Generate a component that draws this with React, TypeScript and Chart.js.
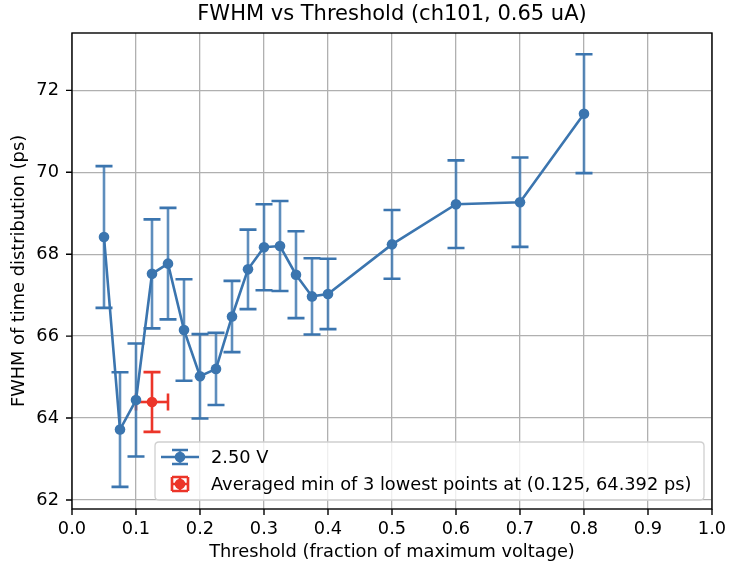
import React, { useEffect, useRef } from "react";
import { Chart, registerables } from "chart.js";

Chart.register(...registerables);

const thresholds = [0.05, 0.075, 0.1, 0.125, 0.15, 0.175, 0.2, 0.225, 0.25, 0.275, 0.3, 0.325, 0.35, 0.375, 0.4, 0.5, 0.6, 0.7, 0.8];
const fwhm = [68.42, 63.72, 64.44, 67.52, 67.77, 66.15, 65.02, 65.2, 66.48, 67.63, 68.17, 68.2, 67.5, 66.97, 67.03, 68.24, 69.22, 69.27, 71.43];
const fwhmErr = [1.73, 1.4, 1.38, 1.33, 1.36, 1.24, 1.03, 0.88, 0.87, 0.97, 1.05, 1.1, 1.06, 0.93, 0.86, 0.84, 1.07, 1.09, 1.45];

const minX = [0.125];
const minY = [64.392];
const minXErr = [0.025];
const minYErr = [0.73];

const xTicks = [0, 0.1, 0.2, 0.3, 0.4, 0.5, 0.6, 0.7, 0.8, 0.9, 1.0];
const yTicks = [62, 64, 66, 68, 70, 72];

const seriesLabel = "2.50 V";
const minLabel = "Averaged min of 3 lowest points at (0.125, 64.392 ps)";
const titleText = "FWHM vs Threshold (ch101, 0.65 uA)";
const xTitle = "Threshold (fraction of maximum voltage)";
const yTitle = "FWHM of time distribution (ps)";

const BLUE = "#3b75af";
const BLUE_BAR = "rgba(59,117,175,0.82)";
const RED = "#ec3529";
const FONT = "'DejaVu Sans', sans-serif";

const CAP = 8.5;
const LW = 2.6;
const MR = 5.3;

function drawErr(ctx: CanvasRenderingContext2D, xs: any, ys: any, x: number, y: number, ex: number, ey: number, lineColor: string, capColor: string) {
  ctx.save();
  ctx.lineWidth = LW;
  ctx.lineCap = "butt";
  if (ey > 0) {
    const px = xs.getPixelForValue(x);
    const top = ys.getPixelForValue(y + ey);
    const bot = ys.getPixelForValue(y - ey);
    ctx.strokeStyle = lineColor;
    ctx.beginPath();
    ctx.moveTo(px, top);
    ctx.lineTo(px, bot);
    ctx.stroke();
    ctx.strokeStyle = capColor;
    ctx.beginPath();
    ctx.moveTo(px - CAP, top);
    ctx.lineTo(px + CAP, top);
    ctx.moveTo(px - CAP, bot);
    ctx.lineTo(px + CAP, bot);
    ctx.stroke();
  }
  if (ex > 0) {
    const py = ys.getPixelForValue(y);
    const l = xs.getPixelForValue(x - ex);
    const r = xs.getPixelForValue(x + ex);
    ctx.strokeStyle = lineColor;
    ctx.beginPath();
    ctx.moveTo(l, py);
    ctx.lineTo(r, py);
    ctx.stroke();
    ctx.strokeStyle = capColor;
    ctx.beginPath();
    ctx.moveTo(l, py - CAP);
    ctx.lineTo(l, py + CAP);
    ctx.moveTo(r, py - CAP);
    ctx.lineTo(r, py + CAP);
    ctx.stroke();
  }
  ctx.restore();
}

const decorPlugin = {
  id: "decor",
  beforeDatasetDraw(chart: any, args: any) {
    const ctx = chart.ctx;
    const xs = chart.scales.x;
    const ys = chart.scales.y;
    const ca = chart.chartArea;
    ctx.save();
    ctx.beginPath();
    ctx.rect(ca.left, ca.top, ca.right - ca.left, ca.bottom - ca.top);
    ctx.clip();
    if (args.index === 0) {
      thresholds.forEach((x, i) => drawErr(ctx, xs, ys, x, fwhm[i], 0, fwhmErr[i], BLUE_BAR, BLUE));
    } else if (args.index === 1) {
      minX.forEach((x, i) => drawErr(ctx, xs, ys, x, minY[i], minXErr[i], minYErr[i], RED, RED));
    }
    ctx.restore();
  },
  afterDraw(chart: any) {
    const ctx = chart.ctx;
    const xs = chart.scales.x;
    const ys = chart.scales.y;
    const ca = chart.chartArea;
    ctx.save();
    // frame
    ctx.strokeStyle = "#000";
    ctx.lineWidth = 1.4;
    ctx.strokeRect(ca.left, ca.top, ca.right - ca.left, ca.bottom - ca.top);
    // tick marks
    ctx.beginPath();
    xTicks.forEach((v) => {
      const px = xs.getPixelForValue(v);
      ctx.moveTo(px, ca.bottom);
      ctx.lineTo(px, ca.bottom + 6);
    });
    yTicks.forEach((v) => {
      const py = ys.getPixelForValue(v);
      ctx.moveTo(ca.left, py);
      ctx.lineTo(ca.left - 6, py);
    });
    ctx.stroke();

    // titles
    ctx.fillStyle = "#000";
    ctx.textAlign = "center";
    ctx.textBaseline = "middle";
    ctx.font = `21px ${FONT}`;
    ctx.fillText(titleText, (ca.left + ca.right) / 2, 15);
    ctx.font = `17.8px ${FONT}`;
    ctx.fillText(xTitle, (ca.left + ca.right) / 2, 552);
    ctx.save();
    ctx.translate(19, (ca.top + ca.bottom) / 2);
    ctx.rotate(-Math.PI / 2);
    ctx.fillText(yTitle, 0, 0);
    ctx.restore();

    // legend
    const bx = 155, by = 442, bw = 549, bh = 58, r = 4;
    ctx.beginPath();
    ctx.moveTo(bx + r, by);
    ctx.lineTo(bx + bw - r, by);
    ctx.quadraticCurveTo(bx + bw, by, bx + bw, by + r);
    ctx.lineTo(bx + bw, by + bh - r);
    ctx.quadraticCurveTo(bx + bw, by + bh, bx + bw - r, by + bh);
    ctx.lineTo(bx + r, by + bh);
    ctx.quadraticCurveTo(bx, by + bh, bx, by + bh - r);
    ctx.lineTo(bx, by + r);
    ctx.quadraticCurveTo(bx, by, bx + r, by);
    ctx.closePath();
    ctx.fillStyle = "rgba(255,255,255,0.8)";
    ctx.fill();
    ctx.strokeStyle = "#d0d0d0";
    ctx.lineWidth = 1.3;
    ctx.stroke();

    const y1 = 457, y2 = 484, cx = 180;
    // row 1 icon
    ctx.strokeStyle = BLUE;
    ctx.lineWidth = LW;
    ctx.beginPath();
    ctx.moveTo(161, y1);
    ctx.lineTo(199, y1);
    ctx.stroke();
    ctx.strokeStyle = BLUE_BAR;
    ctx.beginPath();
    ctx.moveTo(cx, y1 - 7);
    ctx.lineTo(cx, y1 + 7);
    ctx.stroke();
    ctx.strokeStyle = BLUE;
    ctx.beginPath();
    ctx.moveTo(cx - 8, y1 - 7);
    ctx.lineTo(cx + 8, y1 - 7);
    ctx.moveTo(cx - 8, y1 + 7);
    ctx.lineTo(cx + 8, y1 + 7);
    ctx.stroke();
    ctx.fillStyle = BLUE;
    ctx.beginPath();
    ctx.arc(cx, y1, MR, 0, Math.PI * 2);
    ctx.fill();
    // row 2 icon
    ctx.strokeStyle = RED;
    ctx.beginPath();
    ctx.moveTo(cx - 8, y2);
    ctx.lineTo(cx + 8, y2);
    ctx.moveTo(cx, y2 - 7);
    ctx.lineTo(cx, y2 + 7);
    ctx.moveTo(cx - 8, y2 - 7);
    ctx.lineTo(cx - 8, y2 + 7);
    ctx.moveTo(cx + 8, y2 - 7);
    ctx.lineTo(cx + 8, y2 + 7);
    ctx.moveTo(cx - 8, y2 - 7);
    ctx.lineTo(cx + 8, y2 - 7);
    ctx.moveTo(cx - 8, y2 + 7);
    ctx.lineTo(cx + 8, y2 + 7);
    ctx.stroke();
    ctx.fillStyle = RED;
    ctx.beginPath();
    ctx.arc(cx, y2, MR, 0, Math.PI * 2);
    ctx.fill();

    ctx.fillStyle = "#000";
    ctx.textAlign = "left";
    ctx.textBaseline = "middle";
    ctx.font = `17.8px ${FONT}`;
    ctx.fillText(seriesLabel, 211, y1 + 1);
    ctx.fillText(minLabel, 211, y2 + 1);
    ctx.restore();
  },
};

export default function App() {
  const ref = useRef<HTMLCanvasElement>(null);
  useEffect(() => {
    if (!ref.current) return;
    const chart = new Chart(ref.current, {
      type: "scatter",
      data: {
        datasets: [
          {
            label: seriesLabel,
            data: thresholds.map((x, i) => ({ x, y: fwhm[i] })),
            showLine: true,
            borderColor: BLUE,
            backgroundColor: BLUE,
            borderWidth: LW,
            pointRadius: MR,
            pointBorderWidth: 0,
            pointBackgroundColor: BLUE,
          },
          {
            label: minLabel,
            data: minX.map((x, i) => ({ x, y: minY[i] })),
            showLine: false,
            borderColor: RED,
            backgroundColor: RED,
            pointRadius: MR,
            pointBorderWidth: 0,
            pointBackgroundColor: RED,
          },
        ],
      },
      options: {
        animation: false,
        responsive: false,
        devicePixelRatio: 1,
        layout: { padding: { top: 33, right: 17, left: 0, bottom: 0 } },
        plugins: { legend: { display: false }, tooltip: { enabled: false }, title: { display: false } },
        scales: {
          x: {
            type: "linear",
            min: 0,
            max: 1,
            afterBuildTicks: (s: any) => {
              s.ticks = xTicks.map((v) => ({ value: v }));
            },
            afterFit: (s: any) => {
              s.height = 60;
              s.paddingRight = 0;
              s.paddingLeft = 0;
            },
            ticks: {
              callback: (v: any) => Number(v).toFixed(1),
              font: { family: FONT, size: 17.8 },
              color: "#000",
              padding: 10,
              maxRotation: 0,
              autoSkip: false,
            },
            grid: { color: "#b0b0b0", lineWidth: 1.3, drawTicks: false },
            border: { display: false },
          },
          y: {
            type: "linear",
            min: 61.78,
            max: 73.4,
            afterBuildTicks: (s: any) => {
              s.ticks = yTicks.map((v) => ({ value: v }));
            },
            afterFit: (s: any) => {
              s.width = 72;
            },
            ticks: {
              callback: (v: any) => String(v),
              font: { family: FONT, size: 17.8 },
              color: "#000",
              padding: 13,
              autoSkip: false,
            },
            grid: { color: "#b0b0b0", lineWidth: 1.3, drawTicks: false },
            border: { display: false },
          },
        },
      },
      plugins: [decorPlugin],
    });
    return () => chart.destroy();
  }, []);
  return (
    <div style={{ position: "fixed", left: 0, top: 0, width: 729, height: 569, background: "#fff" }}>
      <canvas ref={ref} width={729} height={569} style={{ display: "block" }} />
    </div>
  );
}
